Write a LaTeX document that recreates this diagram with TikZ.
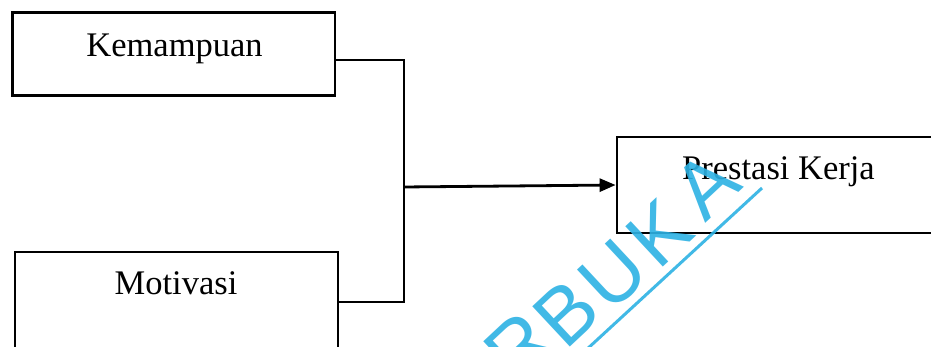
\documentclass[tikz,border=0pt]{standalone}
\usepackage{fontspec}
\setmainfont{Liberation Serif}
\newfontfamily\wmfont{Liberation Sans}
\usetikzlibrary{arrows.meta}
\definecolor{wmcyan}{RGB}{45,178,228}
\tikzset{
  box/.style={draw=black, line width=2.8pt, rectangle, inner sep=0pt},
  lbl/.style={anchor=base, inner sep=0pt, font=\fontsize{34.5}{40}\selectfont},
  conn/.style={draw=black, line width=2.8pt},
  arr/.style={conn, -{Triangle[length=16pt,width=13pt]}},
  wm/.style={text=wmcyan, rotate=43, inner sep=0pt, font=\wmfont\fontsize{80}{86}\selectfont, opacity=0.9}
}
\begin{document}
\begin{tikzpicture}[x=1pt,y=1pt]
\useasboundingbox (0,0) rectangle (931,347);
\clip (0,0) rectangle (931,347);
\fill[white] (0,0) rectangle (931,347);
% boxes
\node[box, minimum width=322.5pt, minimum height=83pt] (k) at (173.75,293) {};
\node[box, minimum width=323pt, minimum height=100pt] (m) at (176.5,45) {};
\node[box, minimum width=318pt, minimum height=96pt] (p) at (776,162) {};
% labels
\node[lbl] (kt) at (174.5,290.3) {Kemampuan};
\node[lbl] (mt) at (176,52) {Motivasi};
\node[lbl] (pt) at (778.5,167) {Prestasi Kerja};
% connectors
\coordinate (jt) at (404,287);
\coordinate (jb) at (404,45);
\coordinate (jm) at (404,160);
\draw[conn] ([yshift=-6pt]k.east) -- (jt) -- (jb) -- (m.east);
\draw[arr] (jm) -- (p.west);
% watermark
\node[wm] (w1) at (519,0) {R};
\node[wm] (w2) at (566,34) {B};
\node[wm] (w3) at (613,72) {U};
\node[wm] (w4) at (659,114) {K};
\node[wm] (w5) at (706,162) {A};
\draw[wmcyan, line width=3pt, opacity=0.9] (560,-27) -- (762,159);
\end{tikzpicture}
\end{document}
